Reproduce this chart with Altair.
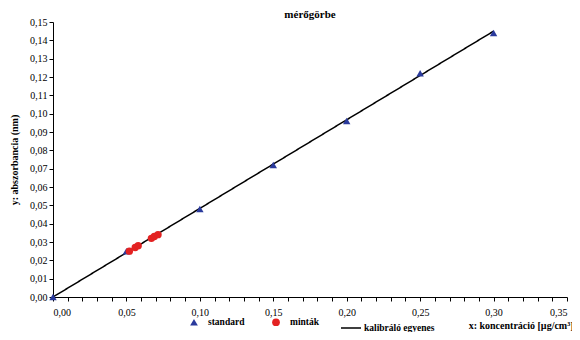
import altair as alt
import pandas as pd

std_x = [0.00, 0.05, 0.10, 0.15, 0.20, 0.25, 0.30]
std_y = [0.000, 0.025, 0.048, 0.072, 0.096, 0.122, 0.144]
smp_x = [0.052, 0.056, 0.058, 0.067, 0.069, 0.0715]
smp_y = [0.025, 0.027, 0.028, 0.032, 0.033, 0.034]
line_x = [0.00, 0.30]
line_y = [0.000, 0.145]
point_series = ["standard", "minták"]
line_series = ["kalibráló egyenes"]

pts = pd.DataFrame({
    "x": std_x + smp_x,
    "y": std_y + smp_y,
    "s": [point_series[0]] * len(std_x) + [point_series[1]] * len(smp_x),
})
ln = pd.DataFrame({"x": line_x, "y": line_y, "s": line_series * len(line_x)})

FONT = "Liberation Serif"
xticks = [round(i * 0.01, 2) for i in range(36)]
yticks = [round(i * 0.01, 2) for i in range(16)]

leg_common = dict(title=None, orient="none", direction="horizontal",
                  labelFont=FONT, labelFontSize=9.5, labelFontWeight="bold",
                  labelColor="black")
pt_legend = alt.Legend(legendX=136, legendY=295, columnPadding=26, labelOffset=9,
                       symbolSize=60, **leg_common)

color = alt.Color("s:N", scale=alt.Scale(domain=point_series, range=["#2a3a9c", "#e32222"]),
                  legend=pt_legend)
shape = alt.Shape("s:N", scale=alt.Scale(domain=point_series, range=["triangle-up", "circle"]),
                  legend=pt_legend)
dash = alt.StrokeDash("s:N", scale=alt.Scale(domain=line_series, range=[[1, 0]]),
                      legend=alt.Legend(legendX=287, legendY=295, labelOffset=2,
                                        symbolSize=400, symbolStrokeWidth=1.5,
                                        symbolStrokeColor="black", **leg_common))

xenc = alt.X("x:Q", scale=alt.Scale(domain=[0, 0.35], nice=False),
             axis=alt.Axis(values=xticks,
                           labelExpr="abs(datum.value*100 % 5) < 0.001 || abs(datum.value*100 % 5 - 5) < 0.001 ? replace(format(datum.value, '.2f'), '.', ',') : ''",
                           title="x: koncentráció [µg/cm³]", titleAnchor="end", titleAlign="right",
                           titleX=520, titleY=28, titleBaseline="middle",
                           labelPadding=6))
yenc = alt.Y("y:Q", scale=alt.Scale(domain=[0, 0.15], nice=False),
             axis=alt.Axis(values=yticks,
                           labelExpr="replace(format(datum.value, '.2f'), '.', ',')",
                           title="y: abszorbancia (nm)", titlePadding=10))

line = alt.Chart(ln).mark_line(strokeWidth=1.5, color="black").encode(x=xenc, y=yenc, strokeDash=dash)
points = alt.Chart(pts).mark_point(filled=True, size=55, opacity=1).encode(
    x=xenc, y=yenc, color=color, shape=shape)

chart = alt.layer(line, points).properties(
    width=514, height=275,
    title=alt.TitleParams("mérőgörbe", font=FONT, fontSize=11, fontWeight="bold",
                          anchor="middle", offset=-3, color="black"),
    autosize=alt.AutoSizeParams(type="none"),
    padding={"left": 45, "top": 14, "right": 5, "bottom": 35},
).configure_view(stroke=None).configure_axis(
    domainColor="black", tickColor="black", labelColor="black", titleColor="black",
    labelFont=FONT, labelFontSize=10, titleFont=FONT, titleFontSize=10,
    titleFontWeight="bold", grid=False, tickSize=4,
)

chart.save("out.html", embed_options={"renderer": "svg", "actions": False})
